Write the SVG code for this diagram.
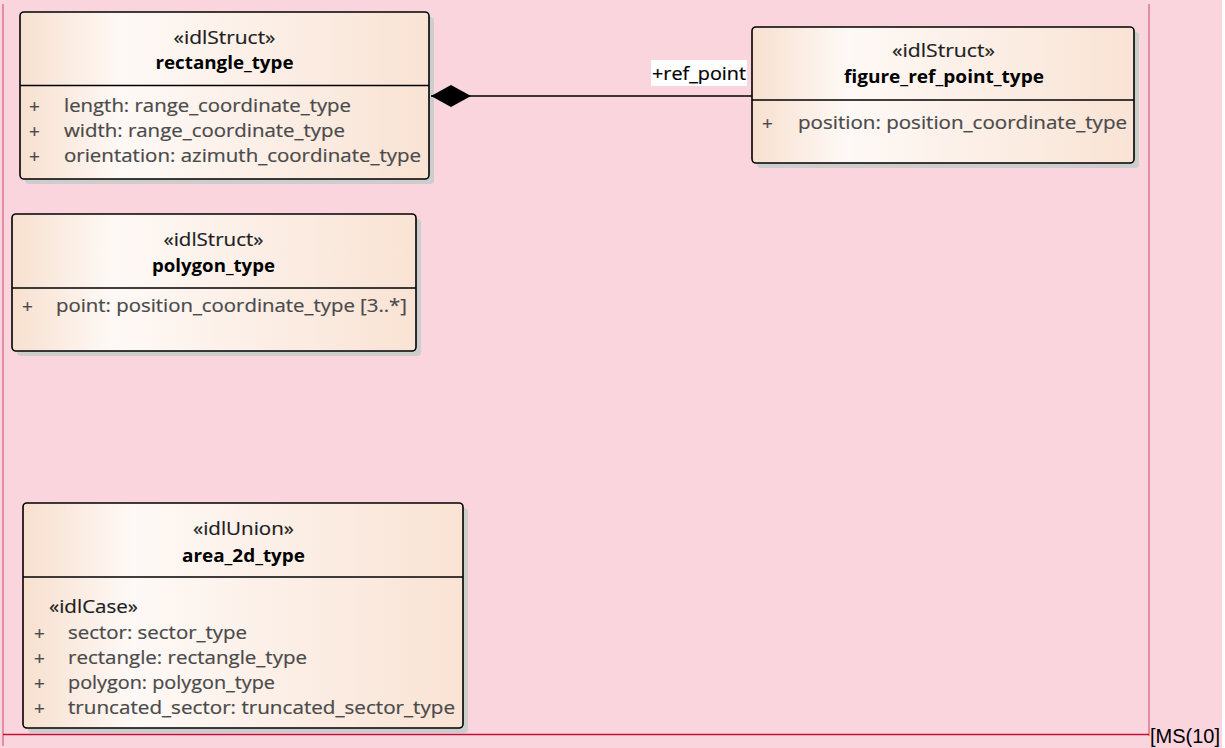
<svg xmlns="http://www.w3.org/2000/svg" width="1225" height="748" viewBox="0 0 1225 748">
  <defs>
    <linearGradient id="fill" x1="0" y1="0" x2="1" y2="0">
      <stop offset="0" stop-color="#F7E0CF"/>
      <stop offset="0.25" stop-color="#FEF9F6"/>
      <stop offset="1" stop-color="#F9E3D4"/>
    </linearGradient>
    <marker id="diamond" markerWidth="42" markerHeight="24" refX="1" refY="12" orient="auto" markerUnits="userSpaceOnUse">
      <path d="M1,12 L21,1 L41,12 L21,23 Z" fill="#000"/>
    </marker>
    <style>
      .shadow { fill: #CDCDCD; }
      .box { fill: url(#fill); stroke: #000; stroke-width: 1.6; }
      .div { stroke: #000; stroke-width: 1.4; }
      text { font-family: "Open Sans", "Liberation Sans", sans-serif; font-size: 18px; }
      .st { fill: #1E1E1E; stroke: #1E1E1E; stroke-width: 0.2; text-anchor: middle; }
      .nm { font-weight: bold; fill: #000; text-anchor: middle; }
      .at { fill: #4A4A4A; stroke: #4A4A4A; stroke-width: 0.2; }
      .pl { font-size: 19px; fill: #4A4A4A; stroke: #4A4A4A; stroke-width: 0.2; }
      .cs { fill: #1E1E1E; stroke: #1E1E1E; stroke-width: 0.2; }
      .lbl { fill: #000; stroke: #000; stroke-width: 0.2; }
      .conn { stroke: #000; stroke-width: 1.6; fill: none; }
    </style>
  </defs>

  <rect x="0" y="0" width="1222" height="748" fill="#FBD5DE"/>
  <line x1="3" y1="4" x2="3" y2="746" stroke="#D0607F" stroke-width="1.2"/>
  <line x1="1149" y1="4" x2="1149" y2="736" stroke="#D0607F" stroke-width="1.2"/>
  <line x1="3" y1="734.5" x2="1149" y2="734.5" stroke="#C0103A" stroke-width="1.6"/>
  <text x="1150" y="743" style="font-family: 'Liberation Sans', Arial, sans-serif; font-size: 20px" fill="#000">[MS(10]</text>

  <g id="rectangle_type">
    <rect class="shadow" x="25" y="17" width="409" height="167" rx="4"/>
    <rect class="box" x="20" y="12" width="409" height="167" rx="4"/>
    <line class="div" x1="20" y1="85.5" x2="429" y2="85.5"/>
    <text class="st" x="224.5" y="44" textLength="102" lengthAdjust="spacingAndGlyphs">«idlStruct»</text>
    <text class="nm" x="224.5" y="69" textLength="138" lengthAdjust="spacingAndGlyphs">rectangle_type</text>
    <text class="pl" x="29" y="113">+</text>
    <text class="at" x="64" y="112" textLength="287" lengthAdjust="spacingAndGlyphs">length: range_coordinate_type</text>
    <text class="pl" x="29" y="138">+</text>
    <text class="at" x="64" y="137" textLength="281" lengthAdjust="spacingAndGlyphs">width: range_coordinate_type</text>
    <text class="pl" x="29" y="163">+</text>
    <text class="at" x="64" y="162" textLength="357" lengthAdjust="spacingAndGlyphs">orientation: azimuth_coordinate_type</text>
  </g>

  <g id="figure_ref_point_type">
    <rect class="shadow" x="757" y="32" width="382" height="136" rx="4"/>
    <rect class="box" x="752" y="27" width="382" height="136" rx="4"/>
    <line class="div" x1="752" y1="100" x2="1134" y2="100"/>
    <text class="st" x="943.5" y="57" textLength="103" lengthAdjust="spacingAndGlyphs">«idlStruct»</text>
    <text class="nm" x="944" y="83" textLength="200" lengthAdjust="spacingAndGlyphs">figure_ref_point_type</text>
    <text class="pl" x="762" y="130">+</text>
    <text class="at" x="798" y="129" textLength="329" lengthAdjust="spacingAndGlyphs">position: position_coordinate_type</text>
  </g>

  <g id="polygon_type">
    <rect class="shadow" x="17" y="219" width="404" height="137" rx="4"/>
    <rect class="box" x="12" y="214" width="404" height="137" rx="4"/>
    <line class="div" x1="12" y1="288" x2="416" y2="288"/>
    <text class="st" x="213.5" y="246" textLength="100" lengthAdjust="spacingAndGlyphs">«idlStruct»</text>
    <text class="nm" x="213.5" y="272" textLength="123" lengthAdjust="spacingAndGlyphs">polygon_type</text>
    <text class="pl" x="22" y="313">+</text>
    <text class="at" x="56" y="312" textLength="351" lengthAdjust="spacingAndGlyphs">point: position_coordinate_type [3..*]</text>
  </g>

  <g id="area_2d_type">
    <rect class="shadow" x="28" y="508" width="440" height="225" rx="4"/>
    <rect class="box" x="23" y="503" width="440" height="225" rx="4"/>
    <line class="div" x1="23" y1="577" x2="463" y2="577"/>
    <text class="st" x="243.5" y="535" textLength="101" lengthAdjust="spacingAndGlyphs">«idlUnion»</text>
    <text class="nm" x="243.5" y="562" textLength="123" lengthAdjust="spacingAndGlyphs">area_2d_type</text>
    <text class="cs" x="49" y="613" textLength="89" lengthAdjust="spacingAndGlyphs">«idlCase»</text>
    <text class="pl" x="34" y="640">+</text>
    <text class="at" x="68" y="639" textLength="179" lengthAdjust="spacingAndGlyphs">sector: sector_type</text>
    <text class="pl" x="34" y="665">+</text>
    <text class="at" x="68" y="664" textLength="239" lengthAdjust="spacingAndGlyphs">rectangle: rectangle_type</text>
    <text class="pl" x="34" y="690">+</text>
    <text class="at" x="68" y="689" textLength="207" lengthAdjust="spacingAndGlyphs">polygon: polygon_type</text>
    <text class="pl" x="34" y="715">+</text>
    <text class="at" x="68" y="714" textLength="387" lengthAdjust="spacingAndGlyphs">truncated_sector: truncated_sector_type</text>
  </g>

  <g id="connectors">
    <line class="conn" x1="431" y1="96" x2="752" y2="96" marker-start="url(#diamond)"/>
    <rect x="651" y="60" width="96" height="26" fill="#FFFFFF"/>
    <text class="lbl" x="652" y="80" textLength="94" lengthAdjust="spacingAndGlyphs">+ref_point</text>
  </g>
</svg>
